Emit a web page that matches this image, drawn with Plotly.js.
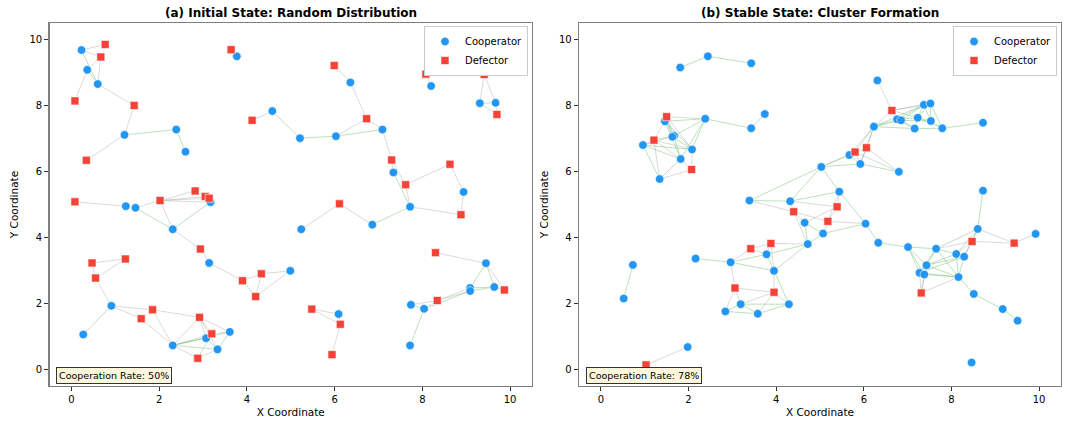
<!DOCTYPE html>
<html>
<head>
<meta charset="utf-8">
<script src="https://cdn.plot.ly/plotly-3.0.1.min.js"></script>
<style>html,body{margin:0;padding:0;background:#fff;}#chart{width:1067px;height:421px;}</style>
</head>
<body>
<div id="chart"></div>
<script>
// ---------- Panel (a): Initial State ----------
const aCoopX = [0.23,0.36,0.60,1.21,2.39,2.60,3.77,4.58,1.24,1.46,3.17,6.36,8.20,9.31,9.67,7.09,5.21,6.03,7.34,8.94,7.72,2.31,3.14,4.99,0.91,0.27,2.31,3.07,3.61,3.33,5.24,6.86,6.09,9.45,9.09,9.09,9.64,7.74,8.04,7.72];
const aCoopY = [9.68,9.08,8.65,7.11,7.27,6.60,9.49,7.83,4.95,4.90,5.07,8.70,8.59,8.07,8.08,7.27,7.01,7.07,5.97,5.38,4.93,4.25,3.23,2.99,1.93,1.06,0.73,0.95,1.14,0.61,4.25,4.39,1.68,3.22,2.47,2.38,2.50,1.96,1.84,0.73];
const aDefX = [0.77,0.67,0.08,1.43,0.34,3.64,4.12,0.08,2.02,2.82,3.05,3.14,5.99,8.08,9.41,9.70,6.73,7.30,7.62,8.63,6.11,2.94,0.47,1.23,0.55,3.90,4.33,4.20,1.85,1.59,2.92,3.20,2.88,8.88,5.48,6.13,5.94,8.30,9.87,8.34];
const aDefY = [9.85,9.47,8.14,8.00,6.34,9.69,7.55,5.08,5.12,5.41,5.24,5.19,9.21,8.95,8.94,7.73,7.60,6.35,5.60,6.22,5.02,3.65,3.23,3.35,2.77,2.69,2.90,2.21,1.81,1.54,1.58,1.08,0.34,4.69,1.83,1.37,0.45,3.54,2.41,2.09];
// edges: node index pairs (cooperators first, then defectors)
const aEdges = [[0,40],[0,41],[0,2],[1,41],[2,41],[1,2],[42,1],[2,43],[43,3],[3,4],[4,5],[3,44],[45,6],[46,7],[7,16],
 [52,11],[11,56],[56,17],[56,15],[17,15],[16,17],[15,57],[57,18],[57,58],[18,20],[58,20],[58,59],[59,19],[19,73],[20,73],[53,12],[54,13],[54,14],[13,14],[13,55],[14,55],
 [47,8],[9,48],[48,49],[48,50],[48,51],[48,10],[49,51],[9,21],[48,21],[10,21],[21,61],[61,22],[22,65],[65,66],[65,67],[66,67],[66,23],[67,23],
 [62,63],[62,64],[63,64],[64,24],[24,25],[24,68],[24,69],[68,70],[68,26],[69,26],
 [26,27],[26,28],[26,29],[26,70],[26,71],[26,72],[70,27],[70,29],[70,28],[70,71],[27,71],[71,28],[72,29],[72,71],[27,29],[28,29],
 [60,30],[60,31],[31,20],[74,32],[74,75],[32,75],[75,76],
 [77,33],[33,34],[33,36],[33,78],[34,36],[35,36],[36,78],[37,79],[38,79],[79,34],[79,35],[38,35],[37,38],[38,39]];
const aRate = "Cooperation Rate: 50%";

// ---------- Panel (b): Stable State ----------
const bCoopX = [1.81,2.44,3.43,3.74,3.43,2.38,1.46,0.96,1.67,1.63,2.08,1.82,1.34,5.03,3.39,4.32,6.31,7.37,7.52,6.76,6.85,7.23,7.53,7.16,7.79,6.23,8.72,5.67,5.92,6.80,5.44,8.72,4.65,3.78,4.72,2.16,2.96,3.95,3.19,4.29,2.84,3.58,0.73,0.52,1.98,5.07,6.04,6.33,7.01,7.65,8.11,8.29,8.60,9.92,7.43,7.27,7.38,8.16,8.51,9.17,9.51,8.46];
const bCoopY = [9.15,9.49,9.28,7.74,7.31,7.60,7.52,6.80,7.08,7.05,6.67,6.38,5.77,6.14,5.12,5.10,8.76,8.02,8.06,7.58,7.55,7.63,7.53,7.30,7.31,7.36,7.48,6.50,6.23,5.99,5.39,5.42,4.45,3.49,3.80,3.36,3.25,2.99,1.98,1.98,1.76,1.69,3.17,2.15,0.68,4.12,4.42,3.84,3.71,3.66,3.50,3.42,4.26,4.11,3.16,2.93,2.88,2.80,2.29,1.83,1.48,0.21];
const bDefX = [1.50,1.21,2.07,9.62,6.64,5.80,6.06,5.39,5.18,4.40,3.88,3.42,3.06,3.95,1.03,8.47,9.43,7.31];
const bDefY = [7.66,6.95,6.06,9.03,7.85,6.59,6.72,4.93,4.49,4.78,3.82,3.66,2.47,2.34,0.14,3.88,3.83,2.32];
const bEdges = [[62,6],[62,5],[62,8],[62,10],[62,9],[6,5],[6,8],[6,10],[6,63],[6,11],[63,7],[63,8],[63,10],[63,11],[63,12],[7,8],[7,11],[7,12],[7,10],[12,11],[12,64],[11,64],[10,64],[8,11],[9,10],[5,10],[5,11],[5,8],[5,4],[4,3],[0,1],[1,2],
 [13,14],[13,15],[13,30],[13,27],[13,28],[13,67],[27,67],[27,28],[27,25],[28,25],[28,67],[28,68],[28,29],[67,68],[67,29],[68,29],[68,25],[67,25],[25,66],[25,19],[25,20],[25,23],[25,17],[66,16],[66,17],[66,18],[66,19],[66,21],[17,18],[17,21],[18,22],[21,22],[19,21],[20,23],[17,19],[17,20],[19,20],[21,23],[22,24],[23,24],[18,24],[24,26],[21,24],[20,22],[17,22],[18,21],[19,23],
 [14,15],[14,71],[15,30],[15,71],[15,69],[71,32],[71,70],[71,34],[30,69],[30,70],[30,46],[69,70],[69,32],[70,45],[70,46],[32,45],[32,34],[45,46],[45,34],[46,47],[34,72],[34,33],[34,37],[72,73],[72,33],[72,37],[73,36],[73,33],[36,35],[36,37],[36,33],[37,75],[37,39],[36,74],[74,38],[74,40],[74,75],[75,38],[75,41],[75,39],[38,39],[38,40],[38,41],[40,41],[41,39],[33,37],
 [31,52],[52,77],[52,78],[52,51],[52,50],[52,49],[77,78],[78,53],[77,50],[77,51],[77,49],[47,48],[48,49],[48,54],[48,55],[48,56],[49,50],[49,54],[49,55],[50,51],[50,54],[51,54],[51,55],[51,57],[54,57],[55,57],[56,57],[54,79],[55,79],[56,79],[57,79],[57,58],[58,59],[59,60],[54,55],[54,56],[49,57],[50,57],
 [42,43],[44,76]];
const bRate = "Cooperation Rate: 78%";

const titles = ["<b>(a) Initial State: Random Distribution</b>", "<b>(b) Stable State: Cluster Formation</b>"];
const legendNames = ["Cooperator", "Defector"];

const BLUE = "#2196F3", RED = "#F44336";
const GREEN_EDGE = "rgba(76,175,80,0.38)", GRAY_EDGE = "rgba(150,150,150,0.35)";

function panelTraces(cx, cy, dx, dy, edges, xa, ya, leg) {
  const nx = cx.concat(dx), ny = cy.concat(dy);
  const nc = cx.length;
  const g = {x: [], y: []}, o = {x: [], y: []};
  edges.forEach(([i, j]) => {
    const t = (i < nc && j < nc) ? g : o;
    t.x.push(nx[i], nx[j], null);
    t.y.push(ny[i], ny[j], null);
  });
  const common = {xaxis: xa, yaxis: ya, hoverinfo: "skip", showlegend: false, mode: "lines", type: "scatter"};
  return [
    Object.assign({}, common, {x: o.x, y: o.y, line: {color: GRAY_EDGE, width: 1}}),
    Object.assign({}, common, {x: g.x, y: g.y, line: {color: GREEN_EDGE, width: 1}}),
    {type: "scatter", mode: "markers", x: cx, y: cy, xaxis: xa, yaxis: ya, name: legendNames[0], legend: leg,
     marker: {symbol: "circle", size: 8.5, color: BLUE, line: {color: "#ffffff", width: 0.6}}},
    {type: "scatter", mode: "markers", x: dx, y: dy, xaxis: xa, yaxis: ya, name: legendNames[1], legend: leg,
     marker: {symbol: "square", size: 8, color: RED, line: {color: "#ffffff", width: 0.6}}}
  ];
}

const data = panelTraces(aCoopX, aCoopY, aDefX, aDefY, aEdges, "x", "y", "legend")
  .concat(panelTraces(bCoopX, bCoopY, bDefX, bDefY, bEdges, "x2", "y2", "legend2"));

const W = 1067, H = 421;
const font = {family: "DejaVu Sans, sans-serif", size: 10, color: "#000"};
const yDom = [1 - 386 / H, 1 - 23 / H];
const xDomA = [49.5 / W, 532 / W], xDomB = [579 / W, 1061 / W];

function xaxis(dom, anchor) {
  return {domain: dom, anchor: anchor, range: [-0.5, 10.5], tickvals: [0, 2, 4, 6, 8, 10],
    ticks: "outside", ticklen: 4, tickwidth: 1, tickcolor: "#333", showgrid: false, zeroline: false,
    showline: true, mirror: true, linecolor: "#7f7f7f", linewidth: 1.3,
    tickfont: {family: font.family, size: 10, color: "#000"},
    title: {text: "X Coordinate", font: {family: font.family, size: 10.5, color: "#000"}, standoff: 4}};
}
function yaxis(anchor) {
  return {domain: yDom, anchor: anchor, range: [-0.5, 10.5], tickvals: [0, 2, 4, 6, 8, 10],
    ticks: "outside", ticklen: 4, tickwidth: 1, tickcolor: "#333", showgrid: false, zeroline: false,
    showline: true, mirror: true, linecolor: "#7f7f7f", linewidth: 1.3,
    tickfont: {family: font.family, size: 10, color: "#000"},
    title: {text: "Y Coordinate", font: {family: font.family, size: 10.5, color: "#000"}, standoff: 8}};
}
function legend(xRight) {
  return {x: xRight, xanchor: "right", y: 1 - 26 / H, yanchor: "top", bgcolor: "#ffffff",
    bordercolor: "#cccccc", borderwidth: 1, font: {family: font.family, size: 10, color: "#000"},
    itemwidth: 30, tracegroupgap: 0};
}
function rateBox(xPix, text) {
  return {xref: "paper", yref: "paper", x: xPix / W, y: 1 - 384 / H, xanchor: "left", yanchor: "bottom",
    text: text, showarrow: false, bgcolor: "#fbf6dc", bordercolor: "#333", borderwidth: 1, borderpad: 2,
    font: {family: font.family, size: 9.5, color: "#000"}};
}
function titleAnn(dom, text) {
  return {xref: "paper", yref: "paper", x: (dom[0] + dom[1]) / 2, y: 1 - 13 / H, xanchor: "center", yanchor: "middle",
    text: text, showarrow: false, font: {family: font.family, size: 12, color: "#000"}};
}

const layout = {
  width: W, height: H, margin: {l: 0, r: 0, t: 0, b: 0},
  paper_bgcolor: "#fff", plot_bgcolor: "#fff", font: font,
  xaxis: xaxis(xDomA, "y"), yaxis: yaxis("x"),
  xaxis2: xaxis(xDomB, "y2"), yaxis2: yaxis("x2"),
  legend: legend(528 / W), legend2: legend(1057 / W),
  annotations: [titleAnn(xDomA, titles[0]), titleAnn(xDomB, titles[1]), rateBox(56, aRate), rateBox(586, bRate)]
};

Plotly.newPlot("chart", data, layout, {displayModeBar: false, staticPlot: true});
</script>
</body>
</html>
